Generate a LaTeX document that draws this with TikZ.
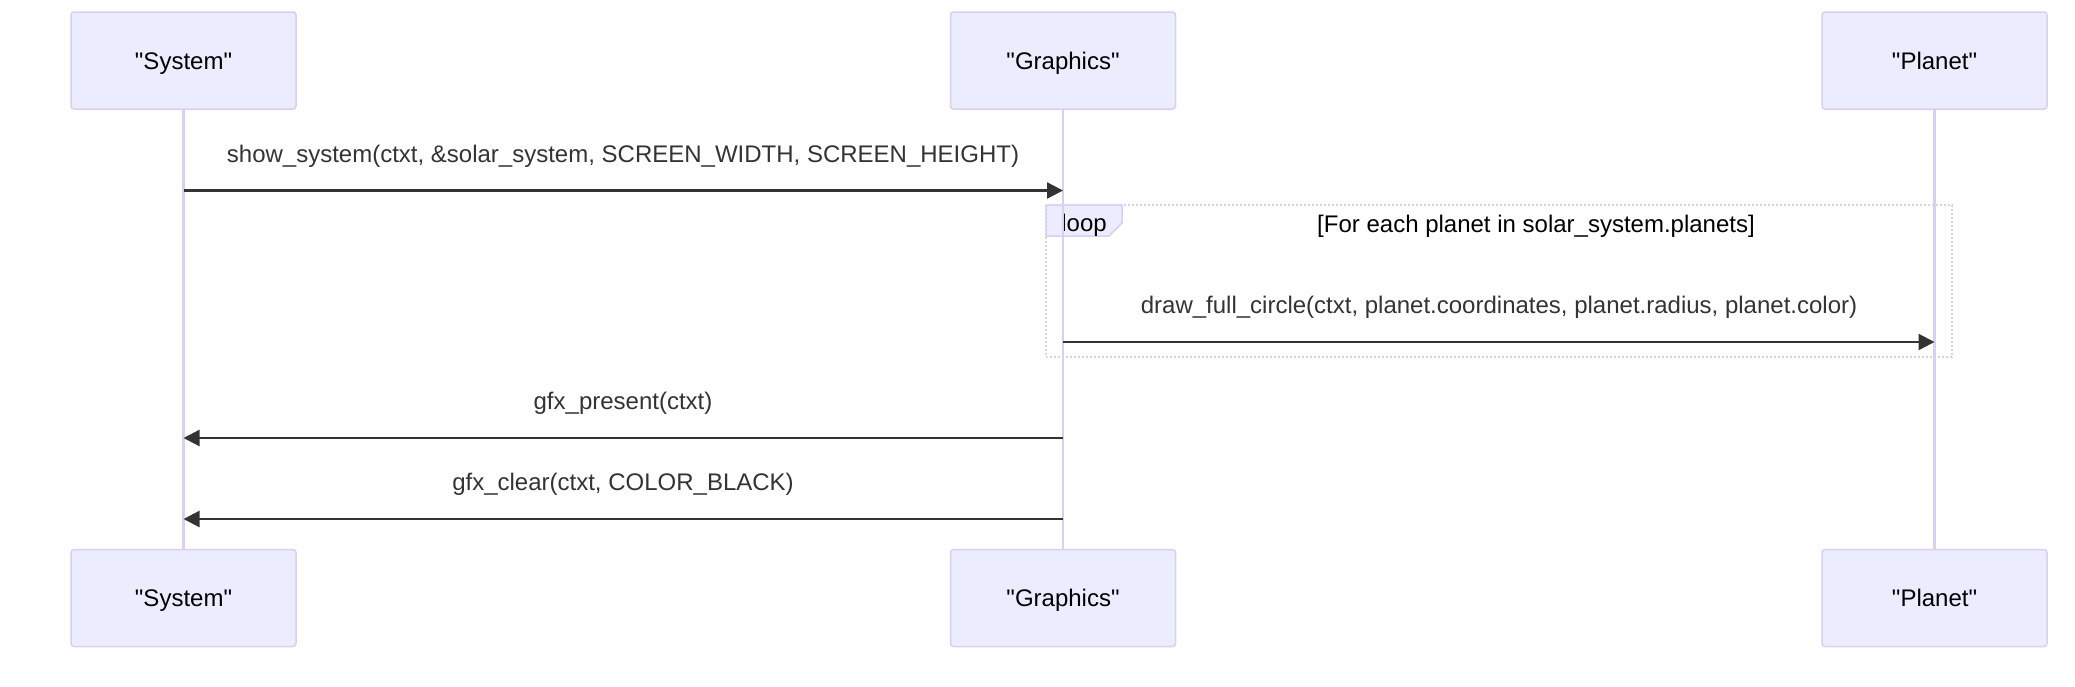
\documentclass[tikz,border=0pt]{standalone}
\usepackage{fontspec}
\setmainfont{Liberation Sans}
\usepackage{tikz}
\usetikzlibrary{arrows.meta, calc, positioning}
\definecolor{actorfill}{HTML}{ECECFF}
\definecolor{actorline}{HTML}{DACEF3}
\definecolor{msgline}{HTML}{333333}
\tikzset{actor/.style={draw=actorline, fill=actorfill, line width=0.75pt, rounded corners=1.5pt, minimum width=112.5pt, minimum height=48.5pt, text height=8.6pt, text depth=0pt, font=\fontsize{12}{14}\selectfont}}
\tikzset{lifeline/.style={draw=actorline, line width=1.25pt}}
\tikzset{message/.style={draw=msgline, line width=1.1pt, -{Triangle[length=8pt, width=8pt]}}}
\tikzset{msglabel/.style={anchor=base, text=msgline, inner sep=0pt, font=\fontsize{12}{14}\selectfont}}
\tikzset{loopframe/.style={draw=actorline, line width=1pt, dash pattern=on 1pt off 1pt}}
\tikzset{looptab/.style={draw=actorline, fill=actorfill, line width=0.75pt}}
\tikzset{looptext/.style={anchor=base, inner sep=0pt, font=\fontsize{12}{14}\selectfont}}
\newcommand{\qq}[1]{\textquotedbl#1\textquotedbl}

\begin{document}
\begin{tikzpicture}[x=0.5pt, y=-0.5pt]
\useasboundingbox (0,0) rectangle (2075,686);

\coordinate (loopNW) at (1046,205);
\coordinate (loopSE) at (1952,357);
\draw[loopframe] (loopNW) rectangle (loopSE);
\draw[looptab] (loopNW) -- ++(76,0) -- ++(0,18) -- ++(-13,13) -- ++(-63,0) -- cycle;
\node[looptext] (loopLbl) at (1084,231.5) {loop};
\node[looptext] (loopCond) at (1536,232) {[For each planet in solar\_system.planets]};

\node[actor] (sysTop)    at (183.5,60.5)  {\qq{System}};
\node[actor] (gfxTop)    at (1063,60.5)   {\qq{Graphics}};
\node[actor] (planetTop) at (1934.5,60.5) {\qq{Planet}};
\node[actor] (sysBot)    at (183.5,598)   {\qq{System}};
\node[actor] (gfxBot)    at (1063,598)    {\qq{Graphics}};
\node[actor] (planetBot) at (1934.5,598)  {\qq{Planet}};

\draw[lifeline] (sysTop.south) -- (sysBot.north);
\draw[lifeline] (gfxTop.south) -- (gfxBot.north);
\draw[lifeline] (planetTop.south) -- (planetBot.north);

\node[msglabel] (msgShow) at (623,162) {show\_system(ctxt, \&solar\_system, SCREEN\_WIDTH, SCREEN\_HEIGHT)};
\draw[message] (sysTop.south |- 0,190.5) -- (gfxTop.south |- 0,190.5);

\node[msglabel] (msgDraw) at (1499,313.5) {draw\_full\_circle(ctxt, planet.coordinates, planet.radius, planet.color)};
\draw[message] (gfxTop.south |- 0,342) -- (planetTop.south |- 0,342);

\node[msglabel] (msgPresent) at (623,409.5) {gfx\_present(ctxt)};
\draw[message] (gfxTop.south |- 0,438) -- (sysTop.south |- 0,438);

\node[msglabel] (msgClear) at (623,490.5) {gfx\_clear(ctxt, COLOR\_BLACK)};
\draw[message] (gfxTop.south |- 0,519) -- (sysTop.south |- 0,519);

\end{tikzpicture}
\end{document}
